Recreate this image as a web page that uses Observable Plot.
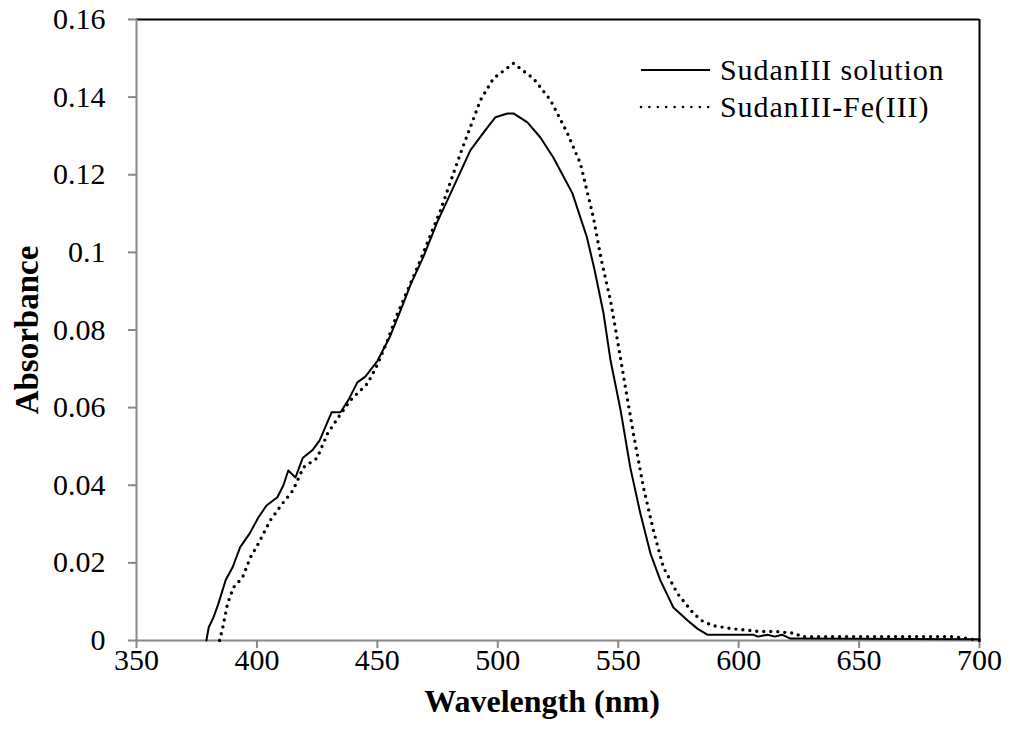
<!DOCTYPE html>
<html><head><meta charset="utf-8">
<script src="https://cdn.jsdelivr.net/npm/d3@7"></script>
<script src="https://cdn.jsdelivr.net/npm/@observablehq/plot@0.6"></script>
<style>
body{margin:0;background:#fff;}
#wrap{position:relative;width:1010px;height:746px;}
#legend{position:absolute;left:636px;top:51px;font-family:'Liberation Serif',serif;font-size:30px;color:#000;letter-spacing:0.9px;}
#legend div{display:flex;align-items:center;white-space:nowrap;height:37px;}
#legend svg{margin-right:8px;}
</style>
</head><body><div id="wrap"><div id="chart"></div><div id="legend"></div></div>
<script>
const seriesNames = ["SudanIII solution", "SudanIII-Fe(III)"];
const xTicks = [350, 400, 450, 500, 550, 600, 650, 700];
const yTicks = [0, 0.02, 0.04, 0.06, 0.08, 0.1, 0.12, 0.14, 0.16];

const solidWavelength = [379,380,382,384,387,390,393,397,400.6,404,408.5,411,413,416,419,423,426,431,434.7,438,441.7,445,450,455,459.6,464,469,475,481.6,488.6,495.7,499,504,506.5,512.3,517.7,523,531,537,540,543.9,546.8,551,555,559.2,563.4,567.5,572.9,578.7,583,587,606,608,612,615,618,621.5,700];
const solidAbs = [0,0.0034,0.006,0.0095,0.0155,0.019,0.024,0.0276,0.0317,0.0348,0.0369,0.040,0.0438,0.042,0.047,0.049,0.0515,0.0588,0.0588,0.062,0.0665,0.068,0.072,0.078,0.085,0.092,0.0987,0.108,0.1168,0.1263,0.1322,0.1348,0.1358,0.1358,0.1335,0.1296,0.1245,0.1152,0.1039,0.096,0.0843,0.0722,0.0593,0.0446,0.0327,0.0224,0.0155,0.0085,0.0052,0.003,0.0015,0.0015,0.001,0.0015,0.001,0.0015,0.0005,0.0003];

const feWavelength = [384.5,385.7,387.8,390.3,394,397.3,400.6,405.6,410.6,415,419.3,425,429.3,433.8,438.8,445.9,450,454,458.4,466.6,476.2,484.5,492.8,498.2,506.5,514.8,521.9,528.9,534.3,539.7,543,546.8,549.7,553,556.3,560.5,564.6,568.8,574.6,581.2,585,589.5,597.8,609,616,624,625.6,689,695,700];
const feAbs = [0,0.003,0.0095,0.0137,0.0162,0.0214,0.025,0.031,0.0353,0.0387,0.0446,0.047,0.0533,0.0575,0.0619,0.0662,0.071,0.077,0.0843,0.0961,0.1108,0.1255,0.1392,0.1448,0.1487,0.1448,0.1392,0.1307,0.1229,0.109,0.098,0.0876,0.0773,0.0652,0.0533,0.0394,0.0284,0.0188,0.0121,0.007,0.005,0.0038,0.003,0.0023,0.0023,0.0018,0.001,0.001,0.0005,0];

const solid = solidWavelength.map((w, i) => ({w, a: solidAbs[i]}));
const fe = feWavelength.map((w, i) => ({w, a: feAbs[i]}));

const dotStyle = {stroke: "#000", strokeWidth: 3.4, strokeDasharray: "0 7", strokeLinecap: "round"};

const plot = Plot.plot({
  width: 1010, height: 746,
  marginLeft: 136, marginRight: 31, marginTop: 19, marginBottom: 106,
  style: {fontFamily: "'Liberation Serif', serif", fontSize: "30px", color: "#000", background: "#fff", overflow: "visible"},
  x: {domain: [350, 700]},
  y: {domain: [0, 0.16]},
  marks: [
    Plot.ruleY([0.16], {stroke: "#000", strokeWidth: 2}),
    Plot.ruleX([700], {stroke: "#000", strokeWidth: 2}),
    Plot.axisX({ticks: xTicks, tickSize: 8, tickPadding: 0, stroke: "#888", fill: "#000", strokeWidth: 2, label: null, fontSize: 30}),
    Plot.axisY({ticks: yTicks, tickSize: 8, tickPadding: 23, stroke: "#888", fill: "#000", strokeWidth: 2, label: null, tickFormat: d => String(d), fontSize: 30}),
    Plot.ruleX([350], {stroke: "#888", strokeWidth: 2}),
    Plot.ruleY([0], {stroke: "#888", strokeWidth: 2}),
    Plot.line(solid, {x: "w", y: "a", stroke: "#000", strokeWidth: 2}),
    Plot.line(fe, {x: "w", y: "a", ...dotStyle}),
    Plot.text(["Wavelength (nm)"], {frameAnchor: "bottom", textAnchor: "middle", lineAnchor: "middle", dx: -16, dy: 61, fontWeight: "bold", fontSize: 32, fill: "#000"}),
    Plot.text(["Absorbance"], {frameAnchor: "left", textAnchor: "middle", lineAnchor: "middle", dx: -109, rotate: -90, fontWeight: "bold", fontSize: 33, fill: "#000"})
  ]
});
document.getElementById("chart").appendChild(plot);

const legend = document.getElementById("legend");
seriesNames.forEach((name, i) => {
  const row = document.createElement("div");
  const dash = i === 0 ? `stroke-width="2"` : `stroke-width="2.6" stroke-dasharray="0 8.4" stroke-linecap="round"`;
  row.innerHTML = `<svg width="76" height="10"><line x1="5" x2="74" y1="5" y2="5" stroke="#000" ${dash}/></svg><span>${name}</span>`;
  legend.appendChild(row);
});
</script>
</body></html>
